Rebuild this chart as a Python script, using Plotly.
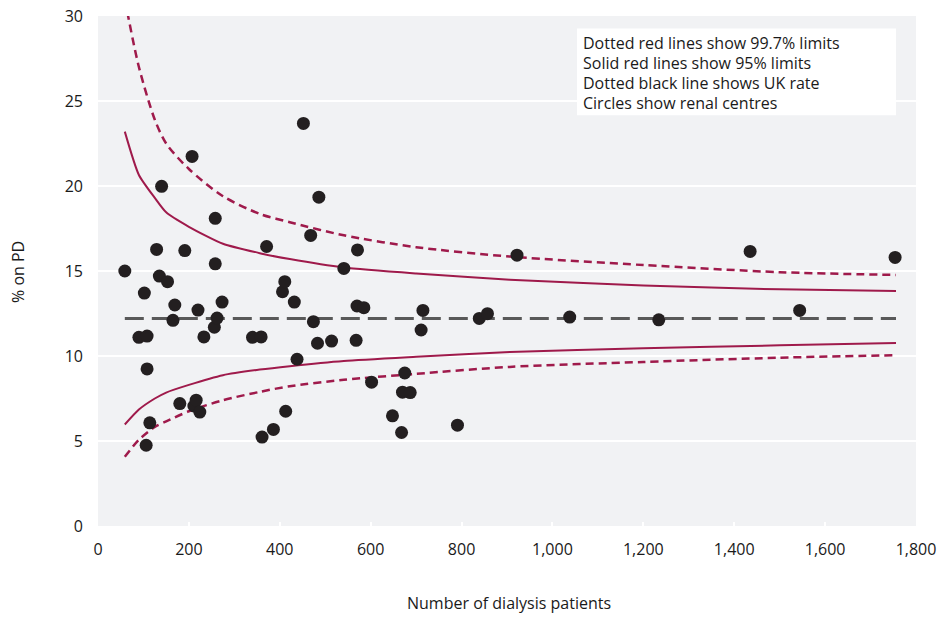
import plotly.graph_objects as go

# Renal centres: number of dialysis patients vs % on PD
centre_n = [59, 90, 102, 106, 108, 108, 114, 129, 135, 140, 153, 165, 169, 180, 191,
            207, 211, 216, 220, 224, 233, 256, 258, 258, 262, 273, 340, 359, 361, 371,
            386, 406, 411, 413, 432, 438, 452, 468, 474, 483, 486, 514, 541, 568, 570,
            571, 585, 602, 648, 668, 670, 675, 687, 711, 715, 791, 839, 857, 922, 1038,
            1234, 1435, 1544, 1754]
centre_pd = [15.0, 11.1, 13.7, 4.75, 11.17, 9.24, 6.07, 16.27, 14.7, 19.98, 14.37, 12.1, 13.0, 7.2, 16.2,
             21.74, 7.06, 7.4, 12.7, 6.7, 11.12, 11.69, 18.1, 15.42, 12.23, 13.17, 11.1, 11.12, 5.23, 16.44,
             5.68, 13.78, 14.37, 6.75, 13.17, 9.81, 23.68, 17.09, 12.02, 10.75, 19.34, 10.88, 15.15, 10.92, 12.94,
             16.24, 12.84, 8.46, 6.48, 5.5, 7.87, 9.0, 7.85, 11.53, 12.68, 5.93, 12.21, 12.49, 15.93, 12.29,
             12.13, 16.15, 12.68, 15.8]

# Funnel limits
limit_n = [59, 90, 125, 150, 200, 275, 356, 422, 541, 700, 906, 1200, 1500, 1756]
upper_997 = [31.0, 27.0, 23.9, 22.5, 21.0, 19.4, 18.36, 17.87, 17.1, 16.4, 15.85, 15.35, 14.93, 14.77]
upper_95 = [23.2, 20.65, 19.3, 18.45, 17.6, 16.6, 16.05, 15.7, 15.2, 14.85, 14.49, 14.15, 13.92, 13.83]
lower_95 = [5.97, 6.85, 7.5, 7.85, 8.3, 8.87, 9.2, 9.4, 9.7, 9.95, 10.24, 10.45, 10.63, 10.76]
lower_997 = [4.07, 5.07, 5.83, 6.15, 6.75, 7.4, 7.89, 8.22, 8.6, 8.95, 9.36, 9.65, 9.9, 10.05]
uk_rate = 12.2
uk_n = [59, 1756]

x_ticks = [0, 200, 400, 600, 800, 1000, 1200, 1400, 1600, 1800]
x_tick_text = ["0", "200", "400", "600", "800", "1,000", "1,200", "1,400", "1,600", "1,800"]
y_ticks = [0, 5, 10, 15, 20, 25, 30]

notes = ["Dotted red lines show 99.7% limits",
         "Solid red lines show 95% limits",
         "Dotted black line shows UK rate",
         "Circles show renal centres"]

RED = "#9f1a4b"
FONT = "Open Sans"

fig = go.Figure()
fig.add_trace(go.Scatter(x=limit_n, y=upper_997, mode="lines",
                         line=dict(color=RED, width=2.5, dash="8px,5px", shape="spline", smoothing=0.8),
                         hoverinfo="skip"))
fig.add_trace(go.Scatter(x=limit_n, y=lower_997, mode="lines",
                         line=dict(color=RED, width=2.5, dash="8px,5px", shape="spline", smoothing=0.8),
                         hoverinfo="skip"))
fig.add_trace(go.Scatter(x=limit_n, y=upper_95, mode="lines",
                         line=dict(color=RED, width=2, shape="spline", smoothing=0.6), hoverinfo="skip"))
fig.add_trace(go.Scatter(x=limit_n, y=lower_95, mode="lines",
                         line=dict(color=RED, width=2, shape="spline", smoothing=0.6), hoverinfo="skip"))
fig.add_trace(go.Scatter(x=uk_n, y=[uk_rate, uk_rate], mode="lines",
                         line=dict(color="#595959", width=3, dash="19px,8px"), hoverinfo="skip"))
fig.add_trace(go.Scatter(x=centre_n, y=centre_pd, mode="markers",
                         marker=dict(color="#231f20", size=13, line=dict(width=0)), cliponaxis=False))

L, R, T, B = 98, 916, 15.5, 526.5       # plot area in page pixels
W, H = 941, 618                          # figure size


def px(xp):
    return (xp - L) / (R - L)


def py(yp):
    return (B - yp) / (B - T)


fig.add_shape(type="rect", xref="paper", yref="paper",
              x0=px(577), x1=px(896), y0=py(115), y1=py(28),
              fillcolor="white", line=dict(width=0), layer="above")
for i, t in enumerate(notes):
    fig.add_annotation(text=t, xref="paper", yref="paper", x=px(581), y=py(43 + 20 * i),
                       xanchor="left", yanchor="middle", showarrow=False,
                       font=dict(family=FONT, size=16, color="#1a1a1a"))

fig.add_annotation(text="% on PD", xref="paper", yref="paper", x=px(18), y=py(272),
                   xanchor="center", yanchor="middle", textangle=-90, showarrow=False,
                   font=dict(family=FONT, size=16, color="#1a1a1a"))
fig.add_annotation(text="Number of dialysis patients", xref="paper", yref="paper",
                   x=px(509), y=py(604), xanchor="center", yanchor="middle", showarrow=False,
                   font=dict(family=FONT, size=16, color="#1a1a1a"))

fig.update_layout(
    width=W, height=H,
    margin=dict(l=L, r=W - R, t=T, b=H - B),
    paper_bgcolor="white", plot_bgcolor="#f1f2f4",
    showlegend=False,
    font=dict(family=FONT, size=16, color="#1a1a1a"),
    xaxis=dict(range=[0, 1800], tickvals=x_ticks, ticktext=x_tick_text,
               showgrid=False, zeroline=False, showline=False,
               ticks="inside", ticklen=4, tickwidth=2, tickcolor="white",
               ticklabelstandoff=12, ticklabeloverflow="allow",
               automargin=False, fixedrange=True),
    yaxis=dict(range=[0, 30], tickvals=y_ticks, showgrid=True, gridcolor="white", gridwidth=2,
               zeroline=False, showline=False, ticks="", ticklabelstandoff=14,
               ticklabeloverflow="allow", automargin=False, fixedrange=True),
)

fig.write_html("out.html",
               config={"displayModeBar": False, "staticPlot": True},
               post_script="document.body.style.margin='0';document.body.style.overflow='hidden';")
